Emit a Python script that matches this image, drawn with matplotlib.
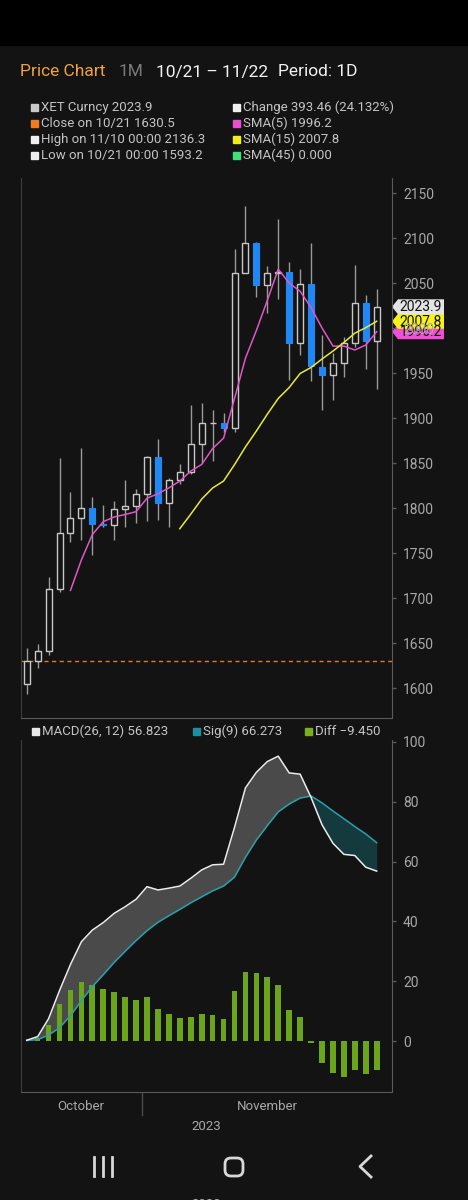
import matplotlib
matplotlib.use("Agg")
import matplotlib.pyplot as plt
from matplotlib.patches import Rectangle, Polygon, FancyBboxPatch
from matplotlib.lines import Line2D

plt.rcParams['font.family'] = ['Roboto', 'DejaVu Sans']

# daily candles 10/21 .. 11/22 (33 days)
opens = [1604.4, 1630.5, 1641.8, 1710.0, 1772.9, 1788.9, 1800.0, 1782.6, 1781.4, 1798.9, 1802.6,
         1815.9, 1857.4, 1806.2, 1831.4, 1840.7, 1871.1, 1894.4, 1894.8, 1888.8, 2061.1, 2095.1,
         2048.1, 2061.8, 2062.5, 1984.0, 2049.2, 1956.7, 1948.1, 1962.0, 1983.5, 2027.8, 1985.5]
highs = [1644.4, 1648.9, 1724.0, 1855.5, 1818.4, 1866.7, 1812.2, 1803.6, 1808.5, 1831.4, 1821.4,
         1858.5, 1876.7, 1834.0, 1848.9, 1914.8, 1916.6, 1909.2, 1906.2, 2088.1, 2136.3, 2096.0,
         2069.2, 2121.1, 2074.0, 2065.6, 2094.4, 1992.6, 1972.2, 1990.7, 2070.4, 2037.0, 2043.3]
lows = [1593.2, 1622.9, 1637.0, 1706.7, 1762.9, 1764.8, 1748.1, 1778.9, 1764.8, 1779.6, 1783.3,
        1785.5, 1787.0, 1779.6, 1827.0, 1838.0, 1850.0, 1852.6, 1885.0, 1885.0, 2061.0, 2034.4,
        2016.7, 2032.2, 1942.6, 1970.3, 1941.9, 1909.2, 1920.3, 1946.3, 1979.6, 1954.4, 1932.2]
closes = [1630.5, 1641.8, 1710.0, 1772.9, 1788.9, 1800.0, 1782.6, 1781.4, 1798.9, 1802.6, 1815.9,
          1857.4, 1806.2, 1831.4, 1840.7, 1871.1, 1894.4, 1894.8, 1888.8, 2061.1, 2095.1, 2048.1,
          2061.8, 2062.5, 1984.0, 2049.2, 1958.1, 1948.1, 1962.0, 1983.5, 2027.8, 1985.5, 2023.9]

sma5 = [1708.8, 1742.7, 1770.9, 1785.2, 1790.4, 1793.1, 1796.3, 1811.2, 1816.2, 1822.7, 1830.3,
        1841.4, 1848.8, 1866.5, 1878.0, 1922.0, 1966.8, 1997.6, 2031.0, 2065.7, 2050.3, 2041.1,
        2023.1, 2000.4, 1980.3, 1980.2, 1975.9, 1981.4, 1996.2]
sma15 = [1777.4, 1793.5, 1810.3, 1822.6, 1830.3, 1848.5, 1868.2, 1885.9, 1904.6, 1922.1, 1934.2,
         1949.8, 1956.5, 1965.9, 1974.7, 1984.2, 1994.6, 2000.7, 2007.8]

macd = [0.3, 1.5, 7.5, 16.9, 25.6, 33.2, 37.1, 39.6, 42.7, 44.9, 47.4, 51.6, 50.5, 51.1, 51.8,
        54.4, 57.2, 58.9, 59.1, 71.4, 84.6, 89.8, 93.4, 95.2, 89.6, 89.2, 81.4, 72.3, 66.1, 62.4,
        62.0, 58.1, 56.8]
signal = [0.2, 0.5, 2.0, 4.5, 8.5, 13.5, 18.2, 22.2, 26.3, 30.0, 33.6, 36.9, 39.7, 41.9, 44.0,
          46.2, 48.2, 50.2, 51.8, 54.8, 61.4, 67.2, 72.0, 76.6, 79.2, 81.2, 81.9, 79.6, 76.9, 74.3,
          71.7, 69.2, 66.3]
diff = [0.1, 1.0, 5.5, 12.4, 17.1, 19.7, 18.9, 17.4, 16.4, 14.9, 13.8, 14.7, 10.8, 9.2, 7.8,
        8.2, 9.0, 8.7, 7.3, 16.6, 23.2, 22.6, 21.4, 18.6, 10.4, 8.0, -0.5, -7.3, -10.8, -11.9,
        -9.7, -11.1, -9.5]

price_ticks = [1600, 1650, 1700, 1750, 1800, 1850, 1900, 1950, 2000, 2050, 2100, 2150]
macd_ticks = [0, 20, 40, 60, 80, 100]
ref_close = 1630.5

BG = "#131313"
GRID = "#4a4a4a"
TXT = "#a8a8a8"
W, H = 468, 1200

fig = plt.figure(figsize=(W / 100, H / 100), dpi=100, facecolor=BG)

# pixel overlay for header / footer
ov = fig.add_axes([0, 0, 1, 1], zorder=-1)
ov.set_xlim(0, W)
ov.set_ylim(H, 0)
ov.axis("off")
ov.patch.set_alpha(0)

ov.add_patch(Rectangle((0, 0), W, 45, color="#000000"))
ov.text(20, 72, "Price Chart", color="#f0a23c", fontsize=12.5, va="center")
ov.text(119, 72, "1M", color="#7a7a7a", fontsize=12.5, va="center")
ov.text(156, 72, "10/21 \u2013 11/22", color="#f2f2f2", fontsize=12.5, va="center")
ov.text(278, 72, "Period: 1D", color="#f2f2f2", fontsize=12.5, va="center")

info = [
    (31, 107, "#c8c8c8", "XET Curncy 2023.9"),
    (31, 123, "#f07a1e", "Close on 10/21 1630.5"),
    (31, 139, "#f0f0f0", "High on 11/10 00:00 2136.3"),
    (31, 155, "#f0f0f0", "Low on 10/21 00:00 1593.2"),
    (233, 107, "#f0f0f0", "Change 393.46 (24.132%)"),
    (233, 123, "#e84fcf", "SMA(5) 1996.2"),
    (233, 139, "#f0ec1e", "SMA(15) 2007.8"),
    (233, 155, "#3fe07a", "SMA(45) 0.000"),
]
for x, y, c, s in info:
    ov.add_patch(Rectangle((x, y - 3.5), 7, 7, color=c))
    ov.text(x + 10, y, s, color="#c4c4c4", fontsize=9.5, va="center")

legend2 = [(32, "#e8e8e8", "MACD(26, 12) 56.823"),
           (193, "#1c8ea0", "Sig(9) 66.273"),
           (305, "#78b020", "Diff \u22129.450")]
for x, c, s in legend2:
    ov.add_patch(Rectangle((x, 728), 7, 7, color=c))
    ov.text(x + 10, 731.5, s, color="#c4c4c4", fontsize=9.5, va="center")

ov.text(81, 1107, "October", color=TXT, fontsize=9.5, ha="center", va="center")
ov.text(267, 1107, "November", color=TXT, fontsize=9.5, ha="center", va="center")
ov.text(206, 1126, "2023", color=TXT, fontsize=9.5, ha="center", va="center")
ov.add_line(Line2D([142, 142], [1092, 1115], color=GRID, lw=1))
ov.text(206, 1204, "2023", color=TXT, fontsize=9.5, ha="center", va="center")

# android nav bar
for x in (94, 103, 112):
    ov.add_line(Line2D([x, x], [1157, 1176], color="#d8d8d8", lw=2))
ov.add_patch(FancyBboxPatch((225, 1158), 18, 18, boxstyle="round,pad=0,rounding_size=6",
                            fc="none", ec="#d8d8d8", lw=2))
ov.add_line(Line2D([371, 360, 371], [1156, 1166.5, 1177], color="#d8d8d8", lw=2))

# ---- price panel ----
ax1 = fig.add_axes([20.7 / W, 1 - 718.3 / H, (392 - 20.7) / W, (718.3 - 178) / H])
ax2 = fig.add_axes([20.7 / W, 1 - 1091.7 / H, (392 - 20.7) / W, (1091.7 - 740) / H])

for ax in (ax1, ax2):
    ax.set_facecolor(BG)
    ax.spines["top"].set_visible(False)
    ax.spines["left"].set_color("#3c3c3c")
    ax.spines["right"].set_color("#5a5a5a")
    ax.spines["bottom"].set_color("#5a5a5a")
    ax.set_xlim(-0.55, 33.4)
    ax.set_xticks([])
    ax.yaxis.tick_right()
    ax.tick_params(axis="y", colors=TXT, labelsize=10, length=3, pad=5, width=1)
    ax.tick_params(axis="y", color="#5a5a5a")

idx = list(range(len(closes)))
for i in idx:
    o, h, l, c = opens[i], highs[i], lows[i], closes[i]
    ax1.vlines(i, l, h, color="#9a9a9a", lw=1, zorder=2)
    bot = min(o, c)
    hgt = max(abs(c - o), 0.8)
    if c >= o:
        ax1.bar(i, hgt, bottom=bot, width=0.55, facecolor=BG, edgecolor="#c8c8c8", lw=1, zorder=3)
    else:
        ax1.bar(i, hgt, bottom=bot, width=0.55, facecolor="#2088f5", edgecolor="#2088f5", lw=0.8, zorder=3)

ax1.axhline(ref_close, color="#e0782a", lw=1, ls=(0, (3, 2.5)), zorder=1)
ax1.plot(idx[4:], sma5, color="#e055c8", lw=1.1, zorder=4)
ax1.plot(idx[14:], sma15, color="#e8e83a", lw=1.1, zorder=4)
ax1.set_ylim(1566.7, 2167)
ax1.set_yticks(price_ticks)
ax1.set_yticklabels([str(t) for t in price_ticks])


def price_tag(value, label, color):
    xd, yd = ax1.transData.transform((33.4, value))
    y = H - yd
    x = xd
    pts = [(x, y), (x + 6, y - 7.5), (x + 52, y - 7.5), (x + 52, y + 7.5), (x + 6, y + 7.5)]
    ov.add_patch(Polygon(pts, closed=True, fc=color, ec="none"))
    ov.text(x + 29, y + 0.5, label, color="#111111", fontsize=10, ha="center", va="center")


price_tag(sma5[-1], "1996.2", "#f04fd5")
price_tag(sma15[-1], "2007.8", "#f6f21a")
price_tag(closes[-1], "2023.9", "#e4e4e4")

# ---- MACD panel ----
ax2.bar(idx, diff, width=0.52, color="#6aa51c", zorder=2)
ax2.fill_between(idx, macd, signal, where=[m >= s for m, s in zip(macd, signal)],
                 interpolate=True, color="#4a4a4a", lw=0, zorder=1)
ax2.fill_between(idx, macd, signal, where=[m <= s for m, s in zip(macd, signal)],
                 interpolate=True, color="#153a3e", lw=0, zorder=1)
ax2.plot(idx, signal, color="#2aa0aa", lw=1.1, zorder=3)
ax2.plot(idx, macd, color="#ececec", lw=1.1, zorder=3)
ax2.set_ylim(-16.9, 100.6)
ax2.set_yticks(macd_ticks)
ax2.set_yticklabels([str(t) for t in macd_ticks])

fig.savefig("out.png", dpi=100, facecolor=BG)
